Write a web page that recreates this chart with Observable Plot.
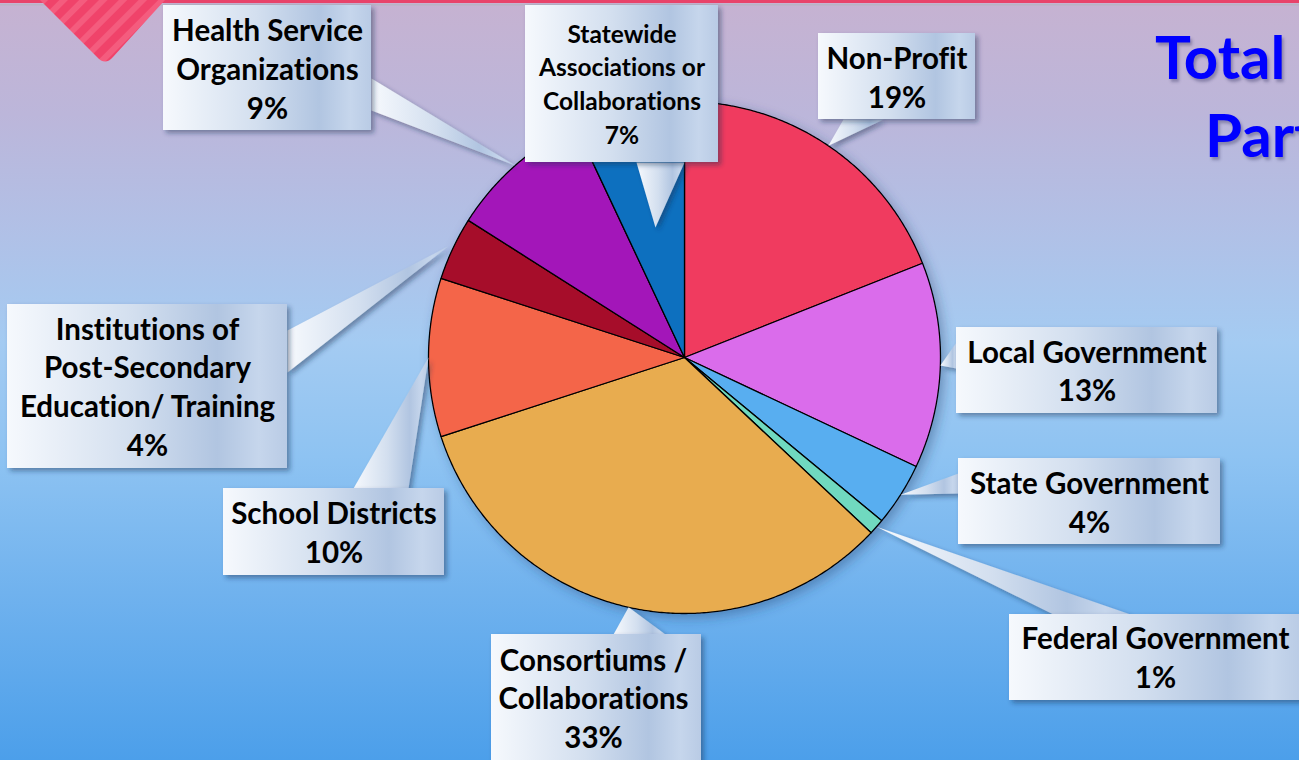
<!DOCTYPE html>
<html>
<head>
<meta charset="utf-8">
<script src="https://cdn.jsdelivr.net/npm/d3@7"></script>
<script src="https://cdn.jsdelivr.net/npm/@observablehq/plot@0.6"></script>
<style>
html, body { margin: 0; padding: 0; }
body {
  width: 1299px; height: 760px; overflow: hidden; position: relative;
  background: linear-gradient(to bottom, #C6B2D1 0%, #BCB6DA 15%, #B1C0E6 30%, #A4CBF2 45%, #8EC3F2 60%, #70B2EE 78%, #4C9FEA 100%);
  font-family: Lato, "Open Sans", sans-serif;
}
#deco { position: absolute; left: 0; top: 0; }
#chart { position: absolute; left: 0; top: 0; }
#chart text { font-variant-ligatures: none; }
.title {
  position: absolute; font-family: Lato, sans-serif; font-weight: 700; font-size: 60px;
  color: #0000FF; white-space: nowrap; line-height: 1;
  text-shadow: 2px 3px 3px rgba(40, 40, 90, 0.35);
}
</style>
</head>
<body>
<svg id="deco" width="1299" height="760">
  <defs>
    <pattern id="stripes" patternUnits="userSpaceOnUse" width="14" height="14" patternTransform="rotate(45)">
      <rect width="14" height="14" fill="#F0436A"/>
      <rect width="6" height="14" fill="#F45C7E"/>
    </pattern>
  </defs>
  <rect x="0" y="0" width="1299" height="3" fill="#E8436A"/>
  <rect x="0" y="4" width="1299" height="1.5" fill="#B8B4C4"/>
  <path d="M40,0 L165,0 L113,57 Q105,66 97,57 Z" fill="url(#stripes)"/>
</svg>
<div id="chart"></div>
<div class="title" style="left:1155px; top:26px;">Total Partners</div>
<div class="title" style="left:1205px; top:104px;">Partnership</div>
<script>
// ---- data ----
const categories = [
  "Non-Profit",
  "Local Government",
  "State Government",
  "Federal Government",
  "Consortiums / Collaborations",
  "School Districts",
  "Institutions of Post-Secondary Education/ Training",
  "Health Service Organizations",
  "Statewide Associations or Collaborations"
];
const values = [19, 13, 4, 1, 33, 10, 4, 9, 7];
const colors = ["#F03A5F", "#DA6CEB", "#58AEF0", "#6FD9BF", "#E8AC50", "#F4654A", "#A60D2B", "#A319B9", "#1070BF"];
const labelLines = [
  ["Non-Profit"],
  ["Local Government"],
  ["State Government"],
  ["Federal Government"],
  ["Consortiums /", "Collaborations"],
  ["School Districts"],
  ["Institutions of", "Post-Secondary", "Education/ Training"],
  ["Health Service", "Organizations"],
  ["Statewide", "Associations or", "Collaborations"]
];

// ---- layout (positions / sizes) ----
const pie = {cx: 684, cy: 357, r: 256};
const boxes = [
  {x1: 818, x2: 975, y1: 33, y2: 119, base: [[843, 119], [883, 119]], tipR: 1.0, b0: 68, lh: 39, fs: 29.5},
  {x1: 956, x2: 1217, y1: 327, y2: 413, base: [[956, 342], [956, 368]], tipR: 1.0, b0: 362, lh: 38.5, fs: 29.5},
  {x1: 958, x2: 1220, y1: 458, y2: 544, base: [[958, 473], [958, 493]], tipR: 1.0, b0: 493, lh: 39, fs: 29.5},
  {x1: 1009, x2: 1301, y1: 614, y2: 700, base: [[1053, 614], [1130, 614]], tipR: 1.0, b0: 648, lh: 39, fs: 29.5},
  {x1: 491, x2: 701, y1: 634, y2: 780, base: [[613, 634], [665, 634]], tipR: 1.0, b0: 670, lh: 38.5, fs: 29.5, tx: 593},
  {x1: 223, x2: 444, y1: 488, y2: 575, base: [[353, 488], [408, 488]], tipR: 1.0, b0: 523, lh: 39, fs: 29.5},
  {x1: 7, x2: 287, y1: 304, y2: 468, base: [[287, 330], [287, 372]], tipR: 1.02, b0: 339, lh: 38.7, fs: 29.5},
  {x1: 163, x2: 371, y1: 5, y2: 130, base: [[371, 78], [371, 110]], tipR: 1.0, b0: 40, lh: 39, fs: 29.5},
  {x1: 525, x2: 718, y1: 5, y2: 162, base: [[636, 162], [684, 162]], tipR: 0.52, b0: 42, lh: 33.7, fs: 24.5}
];

// ---- derived geometry ----
const arcs = d3.pie().sort(null).value(d => d)(values);
const polar = (t, rr) => [pie.cx + rr * Math.sin(t), pie.cy - rr * Math.cos(t)];

const slicePts = arcs.flatMap((a, i) => {
  const n = Math.max(2, Math.ceil((a.endAngle - a.startAngle) / (Math.PI / 360)));
  const pts = [{name: categories[i], px: pie.cx, py: pie.cy}];
  for (let k = 0; k <= n; k++) {
    const t = a.startAngle + (a.endAngle - a.startAngle) * k / n;
    const [px, py] = polar(t, pie.r);
    pts.push({name: categories[i], px, py});
  }
  pts.push({name: categories[i], px: pie.cx, py: pie.cy});
  return pts;
});

const pointerPts = arcs.flatMap((a, i) => {
  const b = boxes[i];
  const mid = (a.startAngle + a.endAngle) / 2;
  const [tx, ty] = polar(mid, pie.r * b.tipR);
  return [
    {name: categories[i], px: b.base[0][0], py: b.base[0][1]},
    {name: categories[i], px: tx, py: ty},
    {name: categories[i], px: b.base[1][0], py: b.base[1][1]},
    {name: categories[i], px: b.base[0][0], py: b.base[0][1]}
  ];
});

const boxRows = boxes.map((b, i) => ({...b, name: categories[i]}));

const textRows = labelLines.flatMap((lines, i) => {
  const b = boxes[i];
  const all = [...lines, `${values[i]}%`];
  const cx = b.tx ?? (b.x1 + b.x2) / 2;
  return all.map((t, k) => ({text: t, px: cx, py: b.b0 + k * b.lh, fs: b.fs}));
});

const chart = Plot.plot({
  width: 1299,
  height: 760,
  margin: 0,
  style: {background: "transparent", overflow: "visible"},
  x: {type: "linear", domain: [0, 1299], range: [0, 1299], axis: null},
  y: {type: "linear", domain: [0, 760], range: [0, 760], axis: null},
  color: {domain: categories, range: colors},
  marks: [
    Plot.line(slicePts, {x: "px", y: "py", z: "name", fill: "name", stroke: "#000", strokeWidth: 1.3, strokeLinejoin: "round", curve: "linear"}),
    Plot.line(pointerPts, {x: "px", y: "py", z: "name", fill: "url(#boxGrad)", stroke: "none", curve: "linear"}),
    Plot.rect(boxRows, {x1: "x1", x2: "x2", y1: "y1", y2: "y2", fill: "url(#boxGrad)"}),
    Plot.text(textRows, {x: "px", y: "py", text: "text", fontSize: "fs", fontFamily: "Lato, 'Open Sans', sans-serif", fontWeight: "bold", fill: "#000", textAnchor: "middle", lineAnchor: "bottom"})
  ]
});

chart.insertAdjacentHTML("afterbegin", `
<defs>
  <linearGradient id="boxGrad" x1="0" y1="0" x2="1" y2="0">
    <stop offset="0" stop-color="#F6F9FD"/>
    <stop offset="0.45" stop-color="#D3DFEF"/>
    <stop offset="0.75" stop-color="#B1C5E1"/>
    <stop offset="0.9" stop-color="#C6D6EC"/>
    <stop offset="1" stop-color="#B9CBE5"/>
  </linearGradient>
  <filter id="boxShadow" x="-20%" y="-20%" width="140%" height="140%">
    <feDropShadow dx="3" dy="3" stdDeviation="2.5" flood-color="#1c2a50" flood-opacity="0.45"/>
  </filter>
  <filter id="pieShadow" x="-20%" y="-20%" width="140%" height="140%">
    <feDropShadow dx="4" dy="4" stdDeviation="6" flood-color="#28406a" flood-opacity="0.4"/>
  </filter>
</defs>`);

const groups = chart.querySelectorAll(":scope > g");
if (groups[0]) groups[0].setAttribute("filter", "url(#pieShadow)");
if (groups[1]) groups[1].setAttribute("filter", "url(#boxShadow)");
if (groups[2]) groups[2].setAttribute("filter", "url(#boxShadow)");
if (groups[3]) groups[3].style.fontVariantLigatures = "none";

document.getElementById("chart").appendChild(chart);
</script>
</body>
</html>
